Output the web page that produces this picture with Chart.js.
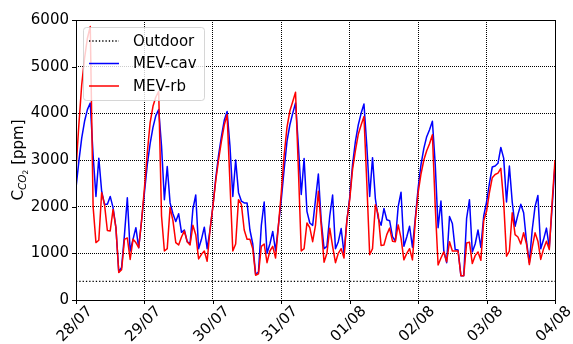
<!DOCTYPE html>
<html>
<head>
<meta charset="utf-8">
<script src="https://cdn.jsdelivr.net/npm/chart.js@4.4.0/dist/chart.umd.min.js"></script>
<style>
  html, body { margin: 0; padding: 0; background: #fff; }
</style>
</head>
<body>
<canvas id="chart" width="573" height="344"></canvas>
<script>
// day labels at every midnight (hour 0, 24, ... 168)
const dayLabels = ["28/07", "29/07", "30/07", "31/07", "01/08", "02/08", "03/08", "04/08"];
const yTicks = [0, 1000, 2000, 3000, 4000, 5000, 6000];
const outdoorLevel = 400;

// hourly CO2 values, one row per day, last value is 04/08 00:00
const mevCav = [
  2400, 2970, 3470, 3830, 4080, 4220, 3100, 2220, 3040, 2330, 2050, 2050, 2220, 1980, 1550, 600, 700, 1400, 2190, 1050, 1300, 1550, 1120, 1700,
  2300, 2900, 3350, 3700, 3950, 4080, 3300, 2150, 2860, 2080, 1850, 1680, 1850, 1450, 1500, 1250, 1200, 1950, 2250, 1100, 1300, 1560, 1100, 1500,
  2000, 2600, 3100, 3500, 3850, 4040, 3300, 2220, 3000, 2300, 2120, 2080, 2080, 1500, 1200, 550, 600, 1600, 2100, 1000, 1200, 1470, 1050, 1600,
  2150, 2800, 3400, 3750, 4000, 4220, 3300, 2260, 3030, 1900, 1650, 1600, 2150, 2700, 1700, 1100, 1150, 1800, 2250, 1100, 1250, 1530, 1000, 1700,
  2200, 2900, 3400, 3750, 4000, 4200, 3300, 2220, 3050, 2170, 1750, 1600, 1960, 1720, 1700, 1360, 1260, 2000, 2310, 1150, 1350, 1580, 1130, 1750,
  2400, 2900, 3250, 3500, 3650, 3830, 2900, 1550, 2120, 1050, 800, 1790, 1640, 1080, 1070, 520, 520, 1750, 2150, 1030, 1200, 1500, 1130, 1800,
  2100, 2500, 2850, 2870, 2930, 3270, 3040, 2100, 2870, 2100, 1580, 1830, 2050, 1870, 1260, 800, 1500, 2000, 2240, 1100, 1300, 1540, 1120, 2000,
  2900
];
const mevRb = [
  2800, 3750, 4610, 5180, 5610, 5860, 2000, 1230, 1280, 2300, 2050, 1490, 1480, 1940, 1550, 590, 650, 1300, 1330, 870, 1300, 1230, 1120, 1700,
  2400, 3150, 3800, 4150, 4350, 4470, 1800, 1050, 1100, 1980, 1700, 1230, 1180, 1350, 1480, 1250, 1180, 1600, 1400, 880, 980, 1050, 830, 1500,
  2000, 2550, 3000, 3400, 3750, 3970, 2500, 1050, 1200, 2150, 2050, 1500, 1300, 1300, 1100, 530, 560, 1150, 1200, 800, 1050, 1150, 900, 1600,
  2300, 3100, 3700, 4050, 4250, 4450, 2800, 1050, 1100, 1650, 1550, 1250, 1600, 2330, 1600, 810, 1000, 1540, 1150, 800, 1000, 1100, 900, 1700,
  2150, 2800, 3200, 3550, 3750, 3930, 2500, 970, 1100, 2040, 1830, 1170, 1180, 1400, 1540, 1260, 1250, 1610, 1325, 860, 1000, 1100, 860, 1700,
  2300, 2700, 3000, 3200, 3350, 3540, 2000, 750, 900, 1030, 820, 1250, 1050, 1050, 1050, 520, 520, 1220, 1240, 780, 950, 1030, 850, 1700,
  1900, 2300, 2620, 2690, 2720, 2820, 2100, 940, 1050, 1870, 1400, 1350, 1200, 1440, 1200, 760, 1120, 1440, 1260, 870, 1100, 1260, 1080, 2100,
  3000
];

const FONT = "'DejaVu Sans', sans-serif";
Chart.defaults.font.family = FONT;
Chart.defaults.font.size = 15;
Chart.defaults.color = "#000";

const toPoints = (values) => values.map((v, i) => ({ x: i, y: v }));

// frame, tick marks, rotated x labels, y title and legend box
const decor = {
  id: "decor",
  afterDraw(chart) {
    const ctx = chart.ctx;
    const a = chart.chartArea;
    const xs = chart.scales.x;
    const ys = chart.scales.y;
    ctx.save();

    ctx.strokeStyle = "#000";
    ctx.lineWidth = 1;
    ctx.setLineDash([]);
    ctx.strokeRect(Math.round(a.left) + 0.5, Math.round(a.top) + 0.5,
      Math.round(a.right - a.left), Math.round(a.bottom - a.top));

    ctx.beginPath();
    xs.ticks.forEach((t) => {
      const px = Math.round(xs.getPixelForValue(t.value)) + 0.5;
      ctx.moveTo(px, a.bottom);
      ctx.lineTo(px, a.bottom + 4);
    });
    ys.ticks.forEach((t) => {
      const py = Math.round(ys.getPixelForValue(t.value)) + 0.5;
      ctx.moveTo(a.left, py);
      ctx.lineTo(a.left - 4, py);
    });
    ctx.stroke();

    ctx.fillStyle = "#000";
    ctx.font = "15px " + FONT;
    ctx.textAlign = "center";
    ctx.textBaseline = "middle";
    xs.ticks.forEach((t) => {
      const label = dayLabels[Math.round(t.value / 24)];
      const px = xs.getPixelForValue(t.value);
      const w = ctx.measureText(label).width;
      ctx.save();
      ctx.translate(px - 1, a.bottom + 5 + (w + 11) * 0.3535);
      ctx.rotate(-Math.PI / 4);
      ctx.fillText(label, 0, 0);
      ctx.restore();
    });

    // y title: C with subscript CO2
    const parts = [
      { t: "C", f: "15px " + FONT, dy: 0 },
      { t: "CO", f: "italic 10.5px " + FONT, dy: 3 },
      { t: "2", f: "7.5px " + FONT, dy: 5 },
      { t: " [ppm]", f: "15px " + FONT, dy: 0 }
    ];
    let total = 0;
    parts.forEach((p) => { ctx.font = p.f; p.w = ctx.measureText(p.t).width; total += p.w; });
    ctx.save();
    ctx.translate(23, (a.top + a.bottom) / 2);
    ctx.rotate(-Math.PI / 2);
    ctx.textAlign = "left";
    ctx.textBaseline = "alphabetic";
    let cx = -total / 2;
    parts.forEach((p) => { ctx.font = p.f; ctx.fillText(p.t, cx, p.dy); cx += p.w; });
    ctx.restore();

    // legend
    const lx = a.left + 7, ly = a.top + 7, lw = 121, lh = 73;
    ctx.beginPath();
    ctx.roundRect(lx + 0.5, ly + 0.5, lw, lh, 3);
    ctx.fillStyle = "rgba(255,255,255,0.8)";
    ctx.fill();
    ctx.strokeStyle = "rgba(204,204,204,0.8)";
    ctx.lineWidth = 1;
    ctx.stroke();
    ctx.font = "15px " + FONT;
    ctx.textAlign = "left";
    ctx.textBaseline = "middle";
    chart.data.datasets.forEach((ds, i) => {
      const ry = ly + 14 + i * 22.5;
      ctx.beginPath();
      ctx.strokeStyle = ds.borderColor;
      ctx.lineWidth = ds.borderWidth;
      ctx.setLineDash(ds.borderDash || []);
      ctx.moveTo(lx + 6, ry);
      ctx.lineTo(lx + 36, ry);
      ctx.stroke();
      ctx.setLineDash([]);
      ctx.fillStyle = "#000";
      ctx.fillText(ds.label, lx + 50, ry + 1);
    });
    ctx.restore();
  }
};

new Chart(document.getElementById("chart"), {
  type: "line",
  data: {
    datasets: [
      {
        label: "Outdoor",
        data: [{ x: 0, y: outdoorLevel }, { x: mevCav.length - 1, y: outdoorLevel }],
        borderColor: "#000",
        borderWidth: 1.3,
        borderDash: [1.3, 2],
        order: 2
      },
      {
        label: "MEV-cav",
        data: toPoints(mevCav),
        borderColor: "#0000ff",
        borderWidth: 1.5,
        order: 1
      },
      {
        label: "MEV-rb",
        data: toPoints(mevRb),
        borderColor: "#ff0000",
        borderWidth: 1.5,
        order: 0
      }
    ]
  },
  options: {
    responsive: false,
    animation: false,
    devicePixelRatio: 1,
    layout: { padding: { top: 20, right: 18, left: 0, bottom: 0 } },
    elements: {
      point: { radius: 0 },
      line: { tension: 0, borderJoinStyle: "round", fill: false }
    },
    plugins: { legend: { display: false }, tooltip: { enabled: false } },
    scales: {
      x: {
        type: "linear",
        min: 0,
        max: 168,
        ticks: { stepSize: 24, display: false },
        grid: { color: "#000", lineWidth: 1, drawTicks: false },
        border: { display: false, dash: [1, 1] },
        afterFit: (s) => { s.height = 44; }
      },
      y: {
        min: yTicks[0],
        max: yTicks[yTicks.length - 1],
        afterBuildTicks: (s) => { s.ticks = yTicks.map((v) => ({ value: v })); },
        ticks: { padding: 7, font: { size: 15 }, color: "#000", callback: (v) => String(v) },
        grid: { color: "#000", lineWidth: 1, drawTicks: false },
        border: { display: false, dash: [1, 1] },
        afterFit: (s) => { s.width = 76; }
      }
    }
  },
  plugins: [decor]
});
</script>
</body>
</html>
